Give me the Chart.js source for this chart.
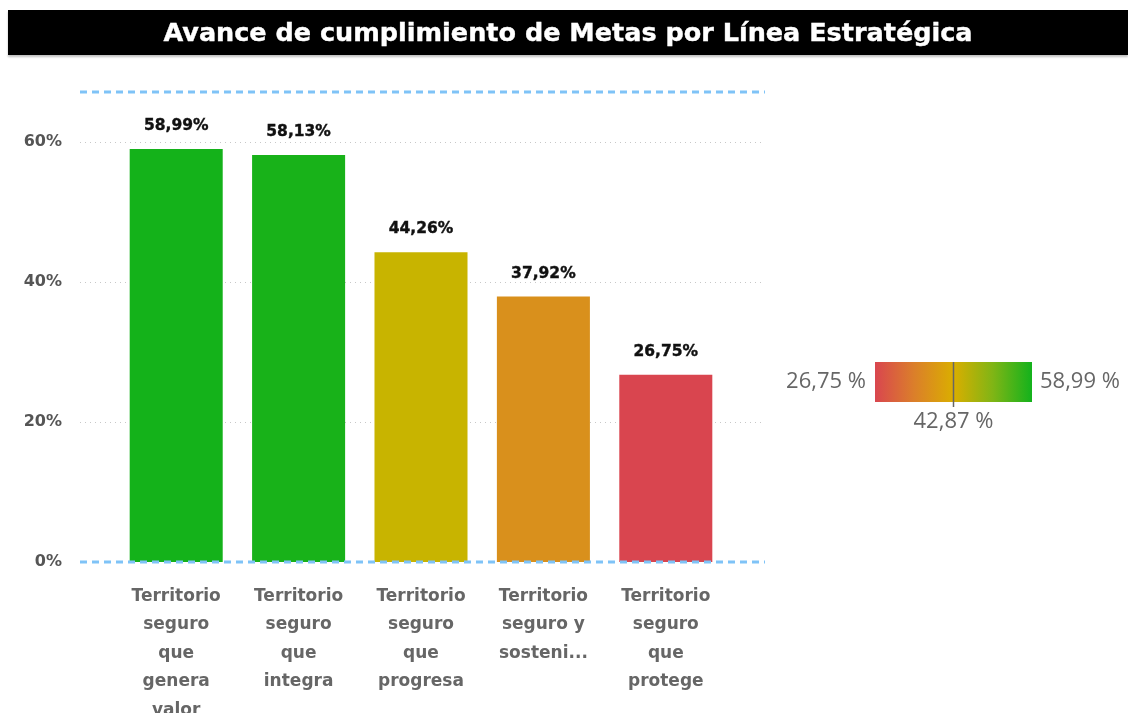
<!DOCTYPE html>
<html lang="es">
<head>
  <meta charset="UTF-8" />
  <title>Avance de cumplimiento de Metas por Línea Estratégica</title>
  <script src="https://cdn.jsdelivr.net/npm/chart.js"></script>
  <style>
    body {
      margin: 0;
      background: #fff;
      width: 1128px;
      height: 713px;
      overflow: hidden;
      position: relative;
    }
    .title-bar {
      position: absolute;
      left: 8px;
      top: 10px;
      width: 1120px;
      height: 45px;
      background: #000;
      box-shadow: 0 2px 2px rgba(0,0,0,0.25);
      color: #fff;
      font-family: 'DejaVu Sans', sans-serif;
      font-weight: bold;
      font-size: 25.5px;
      line-height: 45px;
      text-align: center;
      -webkit-text-stroke: 0.4px #fff;
      z-index: 2;
    }
    #chart-wrap {
      position: absolute;
      left: 0;
      top: 0;
      width: 1128px;
      height: 713px;
    }
  </style>
</head>
<body>

  <div class="title-bar">Avance de cumplimiento de Metas por Línea Estratégica</div>
  <div id="chart-wrap"><canvas id="chart"></canvas></div>

  <script>
    const categories = [
      ["Territorio", "seguro", "que", "genera", "valor"],
      ["Territorio", "seguro", "que", "integra"],
      ["Territorio", "seguro", "que", "progresa"],
      ["Territorio", "seguro y", "sosteni..."],
      ["Territorio", "seguro", "que", "protege"]
    ];
    const avance = [58.99, 58.13, 44.26, 37.92, 26.75];
    const yTicks = [0, 20, 40, 60];
    const yMax = 67.14;   // línea punteada superior

    const barColors = ['#14B21A', '#18B219', '#C8B400', '#D9901C', '#D9454F'];

    const fmt = v => v.toFixed(2).replace('.', ',');

    const minVal = Math.min(...avance);
    const maxVal = Math.max(...avance);
    const midVal = (minVal + maxVal) / 2;

    // líneas de referencia y cuadrícula extendidas (como en Power BI)
    const guides = {
      id: 'guides',
      beforeDatasetsDraw(chart) {
        const { ctx, scales: { y } } = chart;
        const x0 = 80, x1 = 765;
        ctx.save();
        ctx.strokeStyle = '#c8c8c8';
        ctx.lineWidth = 1;
        ctx.setLineDash([1, 4]);
        yTicks.filter(t => t > 0).forEach(t => {
          const py = Math.round(y.getPixelForValue(t)) + 0.5;
          ctx.beginPath();
          ctx.moveTo(x0, py);
          ctx.lineTo(x1, py);
          ctx.stroke();
        });
        ctx.restore();
      },
      afterDatasetsDraw(chart) {
        const { ctx, scales: { y } } = chart;
        const x0 = 80, x1 = 765;
        ctx.save();
        ctx.strokeStyle = '#7fc3f7';
        ctx.lineWidth = 3;
        ctx.setLineDash([7, 5]);
        [0, yMax].forEach(v => {
          const py = y.getPixelForValue(v);
          ctx.beginPath();
          ctx.moveTo(x0, py);
          ctx.lineTo(x1, py);
          ctx.stroke();
        });
        ctx.restore();
      }
    };

    // etiquetas de valor encima de cada barra
    const valueLabels = {
      id: 'valueLabels',
      afterDatasetsDraw(chart) {
        const { ctx } = chart;
        const meta = chart.getDatasetMeta(0);
        ctx.save();
        ctx.font = 'bold 15.5px "DejaVu Sans"';
        ctx.fillStyle = '#111';
        ctx.strokeStyle = '#111';
        ctx.lineWidth = 0.4;
        ctx.textAlign = 'center';
        ctx.textBaseline = 'middle';
        meta.data.forEach((bar, i) => {
          const t = fmt(avance[i]) + '%';
          ctx.fillText(t, bar.x, bar.y - 23);
          ctx.strokeText(t, bar.x, bar.y - 23);
        });
        ctx.restore();
      }
    };

    // leyenda de escala de color
    const colorLegend = {
      id: 'colorLegend',
      afterDraw(chart) {
        const { ctx } = chart;
        const lx = 875, ly = 362, lw = 157, lh = 40;
        ctx.save();
        const g = ctx.createLinearGradient(lx, 0, lx + lw, 0);
        g.addColorStop(0, '#D9464F');
        g.addColorStop(0.25, '#DB7F2A');
        g.addColorStop(0.5, '#DAAE00');
        g.addColorStop(0.75, '#80B515');
        g.addColorStop(1, '#13B21C');
        ctx.fillStyle = g;
        ctx.fillRect(lx, ly, lw, lh);

        const mx = lx + lw * (midVal - minVal) / (maxVal - minVal);
        ctx.strokeStyle = '#666';
        ctx.lineWidth = 1.5;
        ctx.beginPath();
        ctx.moveTo(mx, ly);
        ctx.lineTo(mx, ly + lh + 5);
        ctx.stroke();

        ctx.font = '22px "Open Sans"';
        ctx.fillStyle = '#666';
        ctx.textBaseline = 'middle';
        ctx.textAlign = 'right';
        ctx.fillText(fmt(minVal) + ' %', lx - 9, ly + lh / 2);
        ctx.textAlign = 'left';
        ctx.fillText(fmt(maxVal) + ' %', lx + lw + 8, ly + lh / 2);
        ctx.textAlign = 'center';
        ctx.fillText(fmt(midVal) + ' %', mx, ly + lh + 20);
        ctx.restore();
      }
    };

    new Chart(document.getElementById('chart'), {
      type: 'bar',
      data: {
        labels: categories,
        datasets: [{
          data: avance,
          backgroundColor: barColors,
          borderWidth: 0,
          barPercentage: 0.76,
          categoryPercentage: 1
        }]
      },
      options: {
        responsive: true,
        maintainAspectRatio: false,
        animation: false,
        layout: { padding: { top: 92, right: 401, bottom: 0, left: 0 } },
        plugins: {
          legend: { display: false },
          tooltip: { enabled: false }
        },
        scales: {
          x: {
            grid: { display: false, drawTicks: false },
            border: { display: false },
            afterFit(scale) { scale.height = 151; },
            ticks: {
              autoSkip: false,
              maxRotation: 0,
              padding: 20,
              color: '#666',
              font: { family: 'DejaVu Sans', weight: 'bold', size: 17, lineHeight: 1.68 }
            }
          },
          y: {
            min: 0,
            max: yMax,
            grid: { display: false, drawTicks: false },
            border: { display: false },
            afterFit(scale) { scale.width = 115; },
            afterBuildTicks(scale) {
              scale.ticks = yTicks.map(v => ({ value: v }));
            },
            ticks: {
              padding: 53,
              color: '#555',
              font: { family: 'DejaVu Sans', weight: 'bold', size: 16 },
              callback: v => v + '%'
            }
          }
        }
      },
      plugins: [guides, valueLabels, colorLegend]
    });
  </script>

</body>
</html>
